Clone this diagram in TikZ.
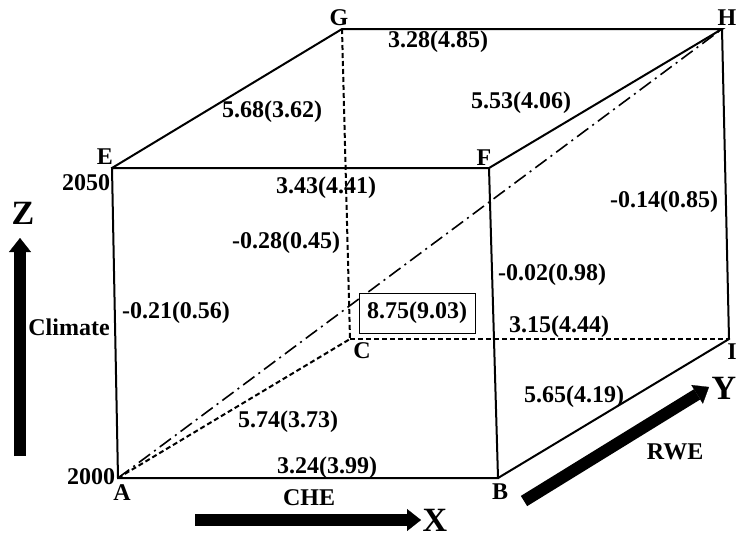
\documentclass[tikz,border=0pt]{standalone}
\usepackage{fontspec}
\setmainfont{Liberation Serif}
\usetikzlibrary{arrows.meta}

\tikzset{
  lab/.style={font=\fontsize{12}{14}\selectfont\bfseries, inner sep=1pt},
  axlab/.style={font=\fontsize{17}{19}\selectfont\bfseries, inner sep=0pt},
  edge/.style={line width=1pt},
  hidden/.style={line width=1pt, dash pattern=on 2.5pt off 1.5pt},
  diag/.style={line width=0.8pt, dash pattern=on 7pt off 2.5pt on 1pt off 2.5pt},
  bigarrow/.style={line width=6pt, -{Triangle[width=11pt,length=7pt,line width=0.1pt]}},
  valbox/.style={lab, draw, line width=0.5pt, fill=white, minimum width=58pt, minimum height=20pt}
}

\begin{document}
\begin{tikzpicture}[x=0.5pt,y=-0.5pt]
\useasboundingbox (0,0) rectangle (738,538);
% cube corners
\coordinate (A) at (118,478);
\coordinate (B) at (498,478);
\coordinate (C) at (350,339);
\coordinate (I) at (729,339);
\coordinate (E) at (112,168);
\coordinate (F) at (489,168);
\coordinate (G) at (342,29);
\coordinate (H) at (722,29);

% hidden edges
\draw[hidden] (G) -- (C);
\draw[hidden] (C) -- (I);
\draw[hidden] (A) -- (C);
\draw[diag] (A) -- (H);

% visible edges
\draw[edge] (A) -- (B) -- (F) -- (E) -- cycle;
\draw[edge] (E) -- (G) -- (H) -- (F);
\draw[edge] (H) -- (I) -- (B);

% corner names
\node[lab] (nA) at (122,493) {A};
\node[lab] (nB) at (500,492) {B};
\node[lab] (nC) at (362,351) {C};
\node[lab] (nE) at (105,157) {E};
\node[lab] (nF) at (484,158) {F};
\node[lab] (nG) at (339,18) {G};
\node[lab] (nH) at (727,18) {H};
\node[lab] (nI) at (732,352) {I};
\node[lab] (y2000) at (91,477) {2000};
\node[lab] (y2050) at (86,183) {2050};

% edge values
\node[lab] (vGH) at (438,42) {3.28(4.85)};
\node[lab] (vEG) at (272,112) {5.68(3.62)};
\node[lab] (vFH) at (521,103) {5.53(4.06)};
\node[lab] (vEF) at (326,188) {3.43(4.41)};
\node[lab] (vHI) at (664,202) {-0.14(0.85)};
\node[lab] (vGC) at (286,243) {-0.28(0.45)};
\node[lab] (vFB) at (552,275) {-0.02(0.98)};
\node[lab] (vEA) at (176,313) {-0.21(0.56)};
\node[lab] (vCI) at (559,327) {3.15(4.44)};
\node[lab] (vBI) at (574,397) {5.65(4.19)};
\node[lab] (vAC) at (288,422) {5.74(3.73)};
\node[lab] (vAB) at (327,468) {3.24(3.99)};
\node[valbox] (vAH) at (417,313) {8.75(9.03)};

% axes
\coordinate (z0) at (20,456);
\coordinate (z1) at (20,238);
\draw[bigarrow] (z0) -- (z1);
\node[axlab] (Z) at (23,213) {Z};
\node[lab] (clim) at (69,327) {Climate};

\coordinate (x0) at (195,520);
\coordinate (x1) at (421,520);
\draw[bigarrow] (x0) -- (x1);
\node[axlab] (X) at (435,520) {X};
\node[lab] (che) at (309,498) {CHE};

\coordinate (w0) at (524,501);
\coordinate (w1) at (709,387);
\draw[bigarrow] (w0) -- (w1);
\node[axlab] (Y) at (724,388) {Y};
\node[lab] (rwe) at (675,452) {RWE};
\end{tikzpicture}
\end{document}
